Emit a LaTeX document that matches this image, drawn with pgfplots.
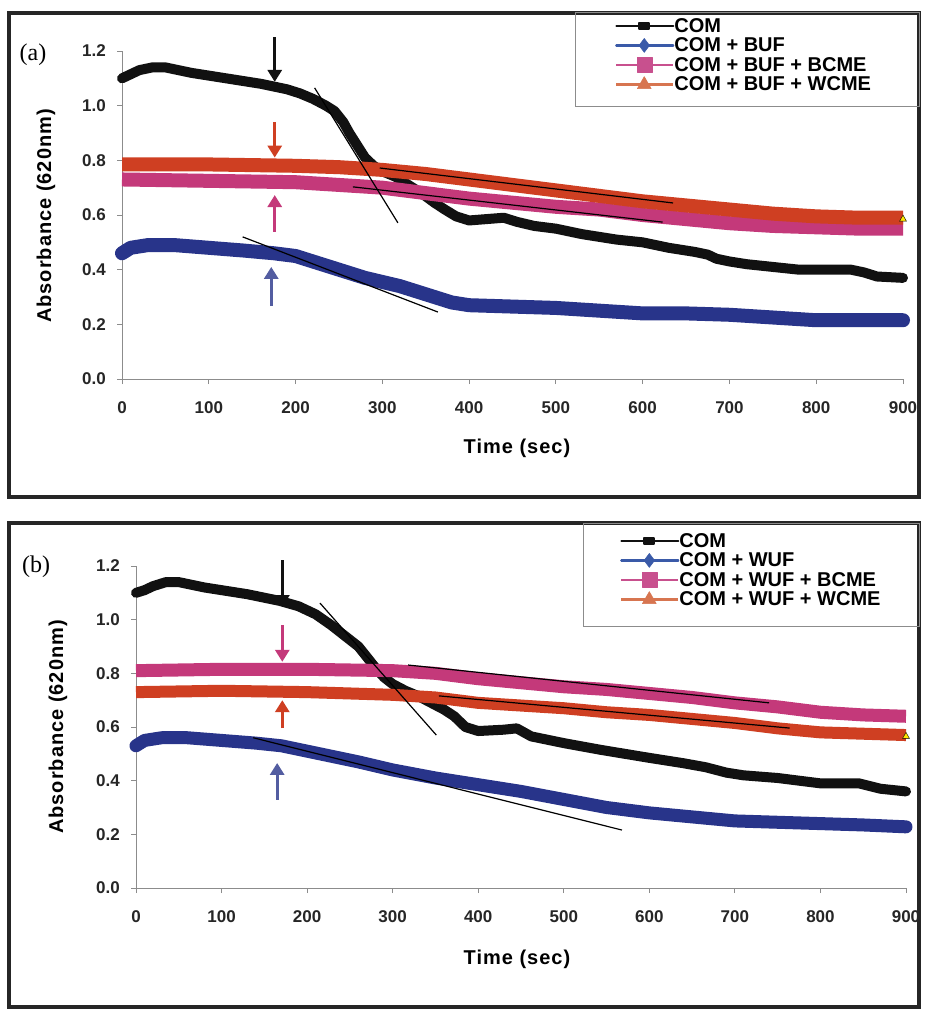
\documentclass[border=0pt]{standalone}
\usepackage{fontspec}
\setmainfont{Liberation Sans}
\newfontfamily\panelfont{Liberation Serif}
\usepackage{pgfplots}
\pgfplotsset{compat=1.18}
\usetikzlibrary{arrows.meta}

\definecolor{comblk}{HTML}{111111}
\definecolor{bufblue}{HTML}{28348A}
\definecolor{bcmepink}{HTML}{C4397A}
\definecolor{wcmered}{HTML}{CF3F22}
\definecolor{legblue}{HTML}{3A5AA8}
\definecolor{legpink}{HTML}{C8508E}
\definecolor{legorange}{HTML}{D77550}
\definecolor{axgray}{HTML}{8C8C8C}

\newcommand{\labfont}{\fontsize{20}{20}\selectfont\bfseries\addfontfeature{LetterSpace=5}}

\pgfplotsset{
  panel/.style={
    scale only axis, clip=false,
    xmin=0, xmax=900, ymin=0, ymax=1.2,
    axis lines*=left,
    axis line style={axgray, line width=1pt},
    xtick={0,100,200,300,400,500,600,700,800,900},
    ytick={0,0.2,0.4,0.6,0.8,1.0,1.2},
    tick style={axgray, line width=1pt},
    tick align=outside, major tick length=5pt,
    /pgf/number format/assume math mode=true,
    ticklabel style={font=\fontsize{17}{17}\selectfont\bfseries, text=black!85},
    yticklabel style={/pgf/number format/fixed, /pgf/number format/fixed zerofill,
      /pgf/number format/precision=1, anchor=east, inner sep=0pt, xshift=-11pt},
    xticklabel style={anchor=north, inner sep=0pt, yshift=-17pt},
    legend cell align=left,
    legend style={draw=none, fill=none, inner sep=0pt, anchor=north west,
      font=\fontsize{20}{20}\selectfont\bfseries, row sep=4pt,
      nodes={inner sep=0pt}},
  },
  band/.style={line width=#1, line join=round},
  trend/.style={black, line width=1.2pt, forget plot},
  legcom/.style={legend image code/.code={\draw[comblk, line width=2pt, mark=square*,
      mark repeat=2, mark phase=2, mark size=3pt, mark options={solid, xscale=1.7, yscale=0.9}]
      plot coordinates {(0pt,0pt) (28pt,0pt) (57pt,0pt)};}},
  legbuf/.style={legend image code/.code={\draw[legblue, line width=2.2pt, mark=diamond*,
      mark repeat=2, mark phase=2, mark size=7pt, mark options={solid, line width=0.5pt}]
      plot coordinates {(0pt,0pt) (28pt,0pt) (57pt,0pt)};}},
  legbcme/.style={legend image code/.code={\draw[legpink, line width=2.2pt, mark=square*,
      mark repeat=2, mark phase=2, mark size=7.5pt, mark options={solid, line width=0.5pt}]
      plot coordinates {(0pt,0pt) (28pt,0pt) (57pt,0pt)};}},
  legwcme/.style={legend image code/.code={\draw[legorange, line width=2.2pt, mark=triangle*,
      mark repeat=2, mark phase=2, mark size=8pt, mark options={solid, line width=0.5pt}]
      plot coordinates {(0pt,0pt) (28pt,0pt) (57pt,0pt)};}},
}

\begin{document}
\begin{tikzpicture}
\useasboundingbox (0pt,0pt) rectangle (925pt,-1011pt);
\fill[white] (0pt,0pt) rectangle (925pt,-1011pt);

% ---------------- panel (a) ----------------
\begin{axis}[panel, width=781pt, height=328pt, at={(122pt,-379pt)}, anchor=south west,
    legend style={at={(0.6312,1.1006)}}]
  \addplot[comblk, band=10pt, line cap=round, legcom] coordinates {
    (0,1.10) (10,1.115) (20,1.13) (35,1.14) (50,1.14) (65,1.13) (80,1.12) (100,1.11)
    (120,1.10) (140,1.09) (160,1.08) (175,1.07) (190,1.06) (205,1.045) (220,1.025)
    (235,1.00) (245,0.98) (255,0.94) (262,0.90) (270,0.86) (280,0.81) (290,0.78)
    (300,0.76) (315,0.74) (330,0.71) (345,0.68) (360,0.645) (372,0.62) (385,0.595)
    (400,0.58) (420,0.585) (440,0.59) (455,0.575) (475,0.56) (500,0.55) (530,0.53)
    (570,0.51) (600,0.50) (630,0.48) (660,0.465) (675,0.455) (685,0.44) (700,0.43)
    (720,0.42) (750,0.41) (780,0.40) (800,0.40) (840,0.40) (855,0.39) (870,0.375) (900,0.37)};
  \addlegendentry{COM}
  \addplot[bufblue, band=14pt, line cap=round, legbuf] coordinates {
    (0,0.46) (10,0.48) (30,0.49) (60,0.49) (100,0.48) (140,0.47) (175,0.46) (200,0.45)
    (220,0.43) (240,0.41) (260,0.39) (280,0.37) (300,0.355) (320,0.34) (340,0.32)
    (360,0.30) (380,0.28) (400,0.27) (450,0.265) (500,0.26) (550,0.25) (600,0.24)
    (650,0.24) (700,0.235) (750,0.225) (800,0.215) (850,0.215) (900,0.215)};
  \addlegendentry{COM + BUF}
  \addplot[bcmepink, band=14pt, legbcme] coordinates {
    (0,0.73) (100,0.725) (200,0.72) (250,0.71) (300,0.70) (350,0.68) (400,0.66)
    (450,0.645) (500,0.63) (550,0.62) (600,0.60) (650,0.585) (700,0.57) (750,0.56)
    (800,0.555) (850,0.55) (900,0.55)};
  \addlegendentry{COM + BUF + BCME}
  \addplot[wcmered, band=14pt, legwcme] coordinates {
    (0,0.785) (100,0.785) (200,0.78) (250,0.775) (300,0.765) (350,0.75) (400,0.73)
    (450,0.71) (500,0.69) (550,0.67) (600,0.65) (650,0.635) (700,0.62) (750,0.605)
    (800,0.595) (850,0.59) (900,0.59)};
  \addlegendentry{COM + BUF + WCME}
  \addplot[only marks, mark=triangle*, mark size=4pt, fill=yellow!90!orange, draw=none, forget plot]
    coordinates {(900,0.585)};
  % trend lines
  \addplot[trend] coordinates {(222,1.065) (318,0.571)};
  \addplot[trend] coordinates {(139,0.52) (364,0.245)};
  \addplot[trend] coordinates {(297,0.772) (635,0.644)};
  \addplot[trend] coordinates {(266,0.703) (623,0.574)};
  % arrows
  \draw[comblk, line width=3pt, -{Triangle[width=14pt, length=12pt]}] (axis cs:176,1.25) -- (axis cs:176,1.087);
  \draw[wcmered, line width=3pt, -{Triangle[width=14pt, length=12pt]}] (axis cs:176,0.94) -- (axis cs:176,0.81);
  \draw[bcmepink, line width=3pt, -{Triangle[width=14pt, length=12pt]}] (axis cs:176,0.538) -- (axis cs:176,0.673);
  \draw[bufblue!80!white, line width=3pt, -{Triangle[width=14pt, length=12pt]}] (axis cs:172,0.267) -- (axis cs:172,0.41);
\end{axis}

% ---------------- panel (b) ----------------
\begin{axis}[panel, width=770pt, height=322pt, at={(136pt,-888pt)}, anchor=south west,
    legend style={at={(0.6286,1.1025)}}]
  \addplot[comblk, band=10pt, line cap=round, legcom] coordinates {
    (0,1.10) (10,1.11) (20,1.125) (35,1.14) (50,1.14) (65,1.13) (80,1.12) (100,1.11)
    (130,1.095) (168,1.07) (190,1.05) (210,1.02) (228,0.98) (240,0.95) (250,0.925)
    (260,0.90) (270,0.86) (280,0.82) (290,0.785) (300,0.76) (315,0.735) (330,0.715)
    (345,0.69) (360,0.665) (372,0.64) (385,0.60) (400,0.585) (430,0.59) (445,0.595)
    (462,0.565) (500,0.54) (543,0.515) (600,0.485) (640,0.465) (666,0.45) (690,0.43)
    (710,0.42) (750,0.41) (800,0.39) (845,0.39) (870,0.37) (900,0.36)};
  \addlegendentry{COM}
  \addplot[bufblue, band=13pt, line cap=round, legbuf] coordinates {
    (0,0.53) (10,0.55) (30,0.56) (60,0.56) (100,0.55) (140,0.54) (170,0.53) (200,0.51)
    (230,0.49) (260,0.47) (300,0.44) (350,0.41) (400,0.385) (450,0.36) (500,0.33)
    (550,0.30) (600,0.28) (650,0.265) (700,0.25) (750,0.245) (800,0.24) (850,0.235) (900,0.228)};
  \addlegendentry{COM + WUF}
  \addplot[bcmepink, band=13pt, legbcme] coordinates {
    (0,0.81) (100,0.815) (200,0.815) (300,0.81) (350,0.80) (400,0.78) (450,0.765)
    (500,0.75) (550,0.74) (600,0.725) (650,0.71) (700,0.69) (750,0.675) (800,0.655)
    (850,0.645) (900,0.64)};
  \addlegendentry{COM + WUF + BCME}
  \addplot[wcmered, band=12pt, legwcme] coordinates {
    (0,0.73) (100,0.735) (200,0.73) (300,0.72) (350,0.71) (400,0.69) (450,0.68)
    (500,0.67) (550,0.655) (600,0.645) (650,0.63) (700,0.615) (750,0.595) (800,0.58)
    (850,0.575) (900,0.57)};
  \addlegendentry{COM + WUF + WCME}
  \addplot[only marks, mark=triangle*, mark size=4pt, fill=yellow!90!orange, draw=none, forget plot]
    coordinates {(900,0.565)};
  % trend lines
  \addplot[trend] coordinates {(215,1.062) (351,0.570)};
  \addplot[trend] coordinates {(137,0.56) (568,0.216)};
  \addplot[trend] coordinates {(318,0.831) (740,0.690)};
  \addplot[trend] coordinates {(354,0.716) (764,0.596)};
  % arrows
  \draw[comblk, line width=3pt, -{Triangle[width=14pt, length=12pt]}] (axis cs:171,1.222) -- (axis cs:171,1.047);
  \draw[bcmepink, line width=3pt, -{Triangle[width=14pt, length=12pt]}] (axis cs:171,0.98) -- (axis cs:171,0.843);
  \draw[wcmered, line width=3pt, -{Triangle[width=14pt, length=12pt]}] (axis cs:171,0.596) -- (axis cs:171,0.70);
  \draw[bufblue!80!white, line width=3pt, -{Triangle[width=14pt, length=12pt]}] (axis cs:165,0.328) -- (axis cs:165,0.466);
\end{axis}

% frames, legend boxes, labels
\draw[black!85, line width=3.5pt] (9pt,-13pt) rectangle (919pt,-497pt);
\draw[black!85, line width=3.5pt] (9pt,-523pt) rectangle (919pt,-1007pt);
\draw[axgray, line width=1pt] (575pt,-13pt) rectangle (919pt,-107pt);
\draw[axgray, line width=1pt] (583pt,-523pt) rectangle (919pt,-626pt);

\node[font=\panelfont\fontsize{24}{24}\selectfont] at (33pt,-55pt) {(a)};
\node[font=\panelfont\fontsize{24}{24}\selectfont] at (36pt,-567pt) {(b)};
\node[font=\labfont, rotate=90] at (46pt,-216pt) {Absorbance (620nm)};
\node[font=\labfont, rotate=90] at (58pt,-727pt) {Absorbance (620nm)};
\node[font=\labfont] at (517pt,-448pt) {Time (sec)};
\node[font=\labfont] at (517pt,-959pt) {Time (sec)};
\end{tikzpicture}
\end{document}
